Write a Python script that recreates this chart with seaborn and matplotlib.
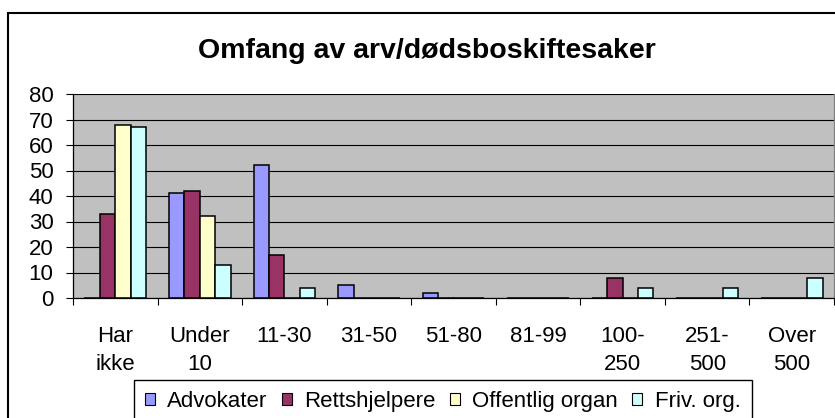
import pandas as pd
import matplotlib.pyplot as plt
import seaborn as sns
from matplotlib.patches import Patch, Rectangle

# Data
categories = ['Har\nikke', 'Under\n10', '11-30', '31-50', '51-80', '81-99',
              '100-\n250', '251-\n500', 'Over\n500']
series = ['Advokater', 'Rettshjelpere', 'Offentlig organ', 'Friv. org.']
advokater = [0, 41, 52, 5, 2, 0, 0, 0, 0]
rettshjelpere = [33, 42, 17, 0, 0, 0, 8, 0, 0]
offentlig = [68, 32, 0, 0, 0, 0, 0, 0, 0]
friv = [67, 13, 4, 0, 0, 0, 4, 4, 8]
colors = ['#9999FF', '#993366', '#FFFFCC', '#CCFFFF']

rows = []
for name, vals in zip(series, [advokater, rettshjelpere, offentlig, friv]):
    for cat, v in zip(categories, vals):
        rows.append({'kategori': cat, 'gruppe': name, 'antall': v})
df = pd.DataFrame(rows)

sns.set_style('white')
plt.rcParams['font.family'] = ['Liberation Sans', 'DejaVu Sans']
plt.rcParams['text.color'] = 'black'
plt.rcParams['xtick.color'] = 'black'
plt.rcParams['ytick.color'] = 'black'

fig = plt.figure(figsize=(8.35, 4.18), dpi=100)
ax = fig.add_axes([73 / 835, 1 - 298 / 418, 761 / 835, 204 / 418])

sns.barplot(data=df, x='kategori', y='antall', hue='gruppe', order=categories,
            hue_order=series, palette=colors, width=0.73, saturation=1,
            edgecolor='black', linewidth=1.1, legend=False, ax=ax)

ax.set_facecolor('#C0C0C0')
ax.set_ylim(0, 80)
ax.set_xlim(-0.5, len(categories) - 0.5)
ax.set_yticks(range(0, 81, 10))
ax.yaxis.grid(True, color='black', linewidth=0.8)
ax.set_axisbelow(True)
ax.set_xlabel('')
ax.set_ylabel('')

for s in ['left', 'bottom']:
    ax.spines[s].set_color('black')
    ax.spines[s].set_linewidth(0.9)
ax.spines['top'].set_visible(False)
ax.spines['right'].set_color('#808080')
ax.spines['right'].set_linewidth(0.9)

ax.tick_params(axis='y', left=True, length=5, width=0.8, pad=9, labelsize=16,
               direction='out', color='black', labelcolor='black')
ax.tick_params(axis='x', which='major', length=0, pad=20, labelsize=16,
               labelcolor='black')
ax.set_xticks([i - 0.5 for i in range(len(categories) + 1)], minor=True)
ax.tick_params(axis='x', which='minor', bottom=True, length=5, width=0.8,
               direction='out', color='black')
for lbl in ax.get_xticklabels():
    lbl.set_linespacing(1.45)
    lbl.set_multialignment('center')

fig.text(427 / 835, 1 - 58 / 418, 'Omfang av arv/dødsboskiftesaker',
         ha='center', va='baseline', fontsize=20.5, fontweight='bold',
         color='black')

handles = [Patch(facecolor=c, edgecolor='black', linewidth=0.8) for c in colors]
leg = fig.legend(handles, series, loc='upper left',
                 bbox_to_anchor=(134 / 835, 1 - 380 / 418), ncol=4, fontsize=16,
                 frameon=True, fancybox=False, edgecolor='black', framealpha=1,
                 handlelength=0.45, handleheight=0.45, handletextpad=0.55,
                 columnspacing=0.65, borderpad=0.5, borderaxespad=0)
for t in leg.get_texts():
    t.set_color('black')

fig.patches.append(Rectangle((8 / 835, -0.5), 1.5, 1 - 13 / 418 + 0.5,
                             transform=fig.transFigure, fill=False,
                             edgecolor='black', linewidth=1.5))

fig.savefig('out.png', dpi=100)
